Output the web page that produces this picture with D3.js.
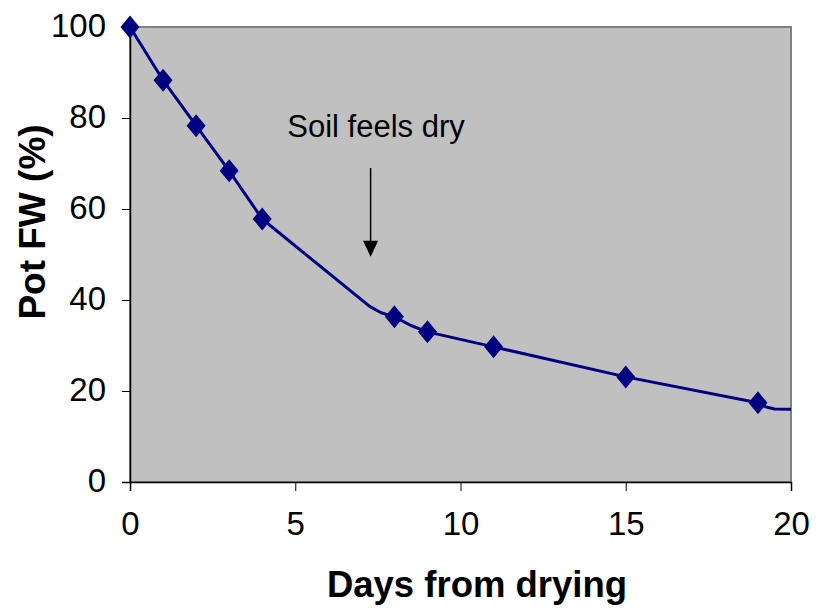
<!DOCTYPE html>
<html><head><meta charset="utf-8">
<script src="https://cdn.jsdelivr.net/npm/d3@7"></script>
<style>body{margin:0;background:#fff}svg{display:block}text{font-family:"Liberation Sans",Arial,sans-serif}</style>
</head><body>
<script>
// Measured pot fresh weight (markers)
const days = [0, 1, 2, 3, 4, 8, 9, 11, 15, 19];
const potFW = [100, 88.3, 78.3, 68.4, 57.8, 36.3, 33.0, 29.7, 23.1, 17.4];
// Curve drawn through the data (line vertices)
const curveDays = [0, 1, 2, 3, 4, 7.25, 7.6, 8, 8.5, 9, 11, 15, 19, 19.25, 19.5, 20];
const curveFW = [100, 88.3, 78.3, 68.4, 57.8, 38.6, 37.2, 36.3, 34.4, 33.0, 29.7, 23.1, 17.4, 16.5, 16.05, 16.0];
const xTicks = [0, 5, 10, 15, 20];
const yTicks = [0, 20, 40, 60, 80, 100];
const annotation = {text: "Soil feels dry", x: 7.28, yFrom: 69, yTo: 49.5};

const W = 821, H = 610;
const mLeft = 130, mRight = 791, mTop = 27, mBottom = 482;
const svg = d3.select("body").append("svg").attr("width", W).attr("height", H);
const x = d3.scaleLinear().domain([0, 20]).range([mLeft, mRight]);
const y = d3.scaleLinear().domain([0, 100]).range([mBottom, mTop]);

svg.append("rect").attr("x", mLeft).attr("y", mTop).attr("width", mRight - mLeft).attr("height", mBottom - mTop)
  .attr("fill", "#c0c0c0").attr("stroke", "#808080").attr("stroke-width", 2);

const xAxis = svg.append("g").attr("transform", `translate(0,${mBottom})`)
  .call(d3.axisBottom(x).tickValues(xTicks).tickSize(9).tickPadding(21));
const yAxis = svg.append("g").attr("transform", `translate(${mLeft},0)`)
  .call(d3.axisLeft(y).tickValues(yTicks).tickSize(8).tickPadding(16));
[xAxis, yAxis].forEach(g => {
  g.select(".domain").attr("stroke", "#000").attr("stroke-width", 1.5);
  g.selectAll(".tick line").attr("stroke", "#000").attr("stroke-width", 1);
  g.selectAll(".tick text").attr("font-size", 33).attr("fill", "#000")
    .attr("font-family", "Liberation Sans, Arial, sans-serif");
});
yAxis.selectAll(".tick text").attr("dy", "0.3em");
xAxis.selectAll(".tick text").attr("dy", "0.71em");

// line
const line = d3.line().x((d, i) => x(curveDays[i])).y(d => y(d)).curve(d3.curveLinear);
svg.append("path").datum(curveFW).attr("d", line).attr("fill", "none")
  .attr("stroke", "#000080").attr("stroke-width", 3).attr("stroke-linejoin", "round");

// markers
const hw = 9.5, hh = 11.5;
svg.append("g").selectAll("path").data(potFW).join("path")
  .attr("d", (d, i) => {
    const cx = x(days[i]), cy = y(d);
    return `M${cx},${cy - hh}L${cx + hw},${cy}L${cx},${cy + hh}L${cx - hw},${cy}Z`;
  })
  .attr("fill", "#000080");

// annotation
svg.append("text").attr("x", 376).attr("y", 137).attr("text-anchor", "middle")
  .attr("font-size", 31).attr("fill", "#000").text(annotation.text);
const ax = x(annotation.x);
svg.append("line").attr("x1", ax).attr("x2", ax).attr("y1", y(annotation.yFrom)).attr("y2", y(annotation.yTo) - 14)
  .attr("stroke", "#000").attr("stroke-width", 1.5);
svg.append("path").attr("d", `M${ax - 7.5},${y(annotation.yTo) - 16}L${ax + 7.5},${y(annotation.yTo) - 16}L${ax},${y(annotation.yTo)}Z`)
  .attr("fill", "#000");

// axis titles
svg.append("text").attr("x", 477).attr("y", 597).attr("text-anchor", "middle")
  .attr("font-size", 36.5).attr("font-weight", "bold").attr("fill", "#000").text("Days from drying");
svg.append("text").attr("transform", `translate(45,222) rotate(-90)`).attr("text-anchor", "middle")
  .attr("font-size", 37).attr("font-weight", "bold").attr("fill", "#000").text("Pot FW (%)");
</script>
</body></html>
